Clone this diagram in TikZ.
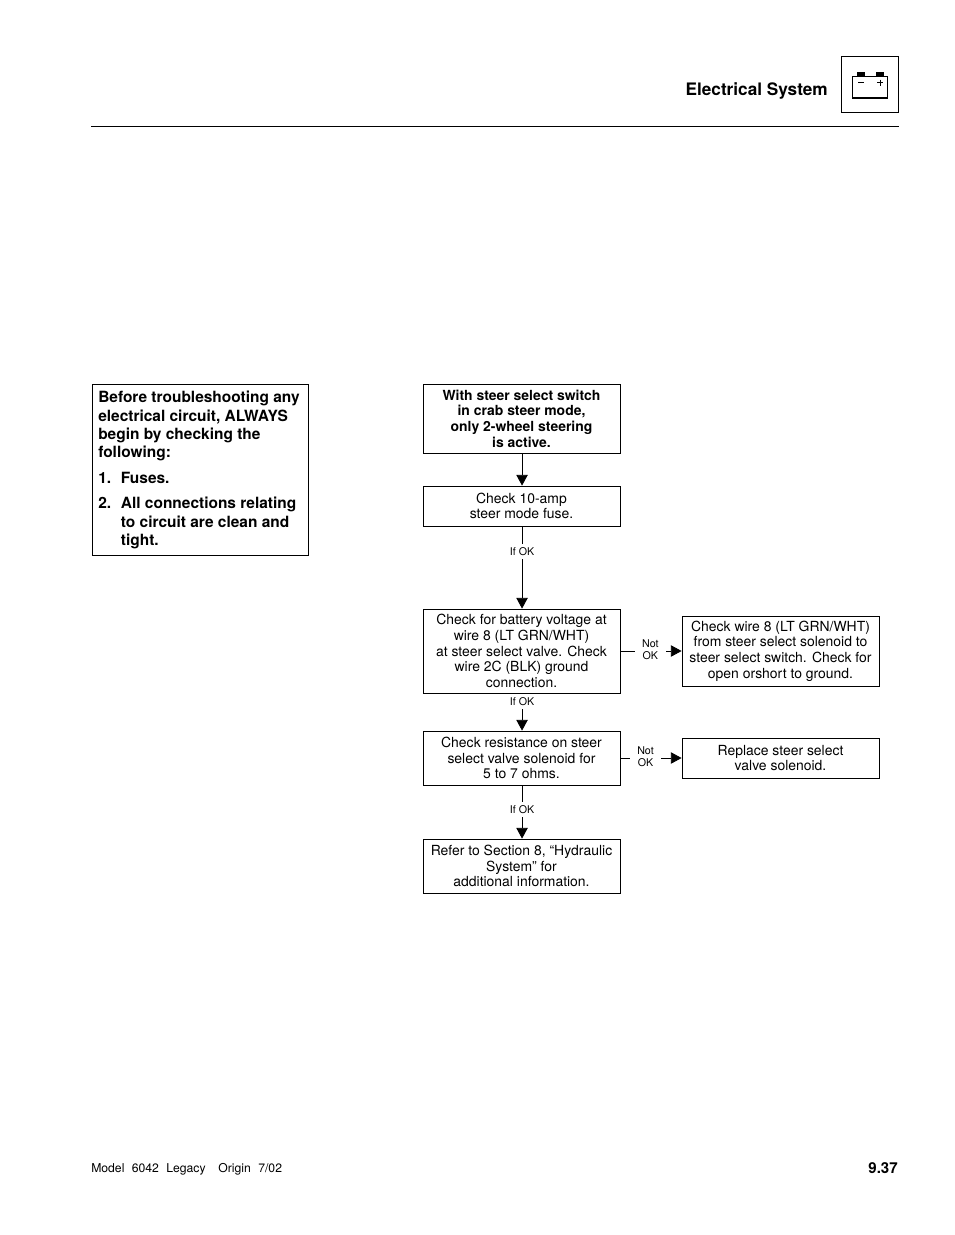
\documentclass[tikz,border=0pt]{standalone}
\usepackage{fontspec}
\setmainfont{TeX Gyre Heros}
\usetikzlibrary{arrows.meta}
\newcommand{\bodyfont}{\fontsize{10.45}{11.75}\selectfont}
\newcommand{\labfont}{\fontsize{8}{9}\selectfont}
\tikzset{
  flowbox/.style={draw,line width=0.6pt,align=center,inner sep=0pt,font=\bodyfont,minimum width=147.75pt},
  lab/.style={fill=white,inner xsep=1pt,inner ysep=2.5pt,align=center,font=\labfont},
  labside/.style={fill=white,inner xsep=5.4pt,inner ysep=1pt,align=center,font=\labfont,yshift=0.9pt},
  flow/.style={line width=0.6pt,-{Triangle[length=8pt,width=8.5pt]}},
  plain/.style={inner sep=0pt,anchor=base}
}
\begin{document}
\begin{tikzpicture}[x=0.75pt,y=-0.75pt]
\useasboundingbox (0,0) rectangle (954,1235);
% header
\node[plain,anchor=base east,font=\fontsize{12.9}{14}\selectfont\bfseries] (title) at (828,95) {Electrical System};
\node[draw,line width=0.75pt,minimum width=42.75pt,minimum height=42pt,inner sep=0pt] (iconbox) at (869.5,84) {};
\coordinate (ruleL) at (91,126.5);
\coordinate (ruleR) at (899,126.5);
\draw[line width=0.75pt] (ruleL) -- (ruleR);
% battery icon
\fill (857,72) rectangle (865,76.5);
\fill (876,72) rectangle (884,76.5);
\draw[line width=0.5pt] (852.5,76.3) -- (888,76.3);
\draw[line width=0.9pt] (852.5,76) -- (852.5,98) -- (887.5,98) -- (887.5,76);
\draw[line width=0.75pt] (858,82.5) -- (864,82.5);
\draw[line width=0.75pt] (877,82.5) -- (883,82.5) (880,79.5) -- (880,85.5);
% left note
\node[draw,line width=0.6pt,minimum width=162pt,minimum height=128.25pt,inner sep=0pt] (note) at (200,469.5) {};
\node[anchor=north west,inner sep=0pt,align=left,font=\fontsize{11.6}{13.8}\selectfont\bfseries] (notetext) at (98,391)
 {Before troubleshooting any\\
  electrical circuit, ALWAYS\\
  begin by checking the\\
  following:\\[5.6pt]
  1.\hspace{7.3pt}Fuses.\\[5pt]
  2.\hspace{7.3pt}All connections relating\\
  \hspace*{17pt}to circuit are clean and\\
  \hspace*{17pt}tight.};
% flow boxes
\node[flowbox,minimum height=51.75pt,font=\bodyfont\bfseries] (b1) at (521.5,418.5)
 {With steer select switch\\in crab steer mode,\\only 2-wheel steering\\is active.};
\node[flowbox,minimum height=30pt] (b2) at (521.5,506)
 {Check 10-amp\\steer mode fuse.};
\node[flowbox,minimum height=63pt] (b3) at (521.5,651)
 {Check for battery voltage at\\wire 8 (LT GRN/WHT)\\at steer select valve. Check\\wire 2C (BLK) ground\\connection.};
\node[flowbox,minimum height=52.5pt] (b4) at (780.5,651)
 {Check wire 8 (LT GRN/WHT)\\from steer select solenoid to\\steer select switch. Check for\\open orshort to ground.};
\node[flowbox,minimum height=40.5pt] (b5) at (521.5,758)
 {Check resistance on steer\\select valve solenoid for\\5 to 7 ohms.};
\node[flowbox,minimum height=30pt] (b6) at (780.5,758)
 {Replace steer select\\valve solenoid.};
\node[flowbox,minimum height=40.5pt] (b7) at (521.5,866)
 {Refer to Section 8, “Hydraulic\\System” for\\additional information.};
% connectors
\draw[flow] ([xshift=0.4pt]b1.south) -- ([xshift=0.4pt]b2.north);
\draw[flow] ([xshift=0.4pt]b2.south) -- node[lab,pos=0.31] (l1) {If OK} ([xshift=0.4pt]b3.north);
\draw[flow] ([xshift=0.4pt]b3.south) -- node[lab,pos=0.22] (l2) {If OK} ([xshift=0.4pt]b5.north);
\draw[flow] ([xshift=0.4pt]b5.south) -- node[lab,pos=0.46] (l3) {If OK} ([xshift=0.4pt]b7.north);
\draw[flow] (b3) -- node[labside,pos=0.49] (l4) {Not\\OK} (b4);
\draw[flow] (b5) -- node[labside,pos=0.41] (l5) {Not\\OK} (b6);
% footer
\node[plain,anchor=base west,font=\fontsize{9.15}{11}\selectfont] (foot) at (91,1172) {Model\hspace{3pt} 6042\hspace{3pt} Legacy\hspace{7pt} Origin\hspace{3pt} 7/02};
\node[plain,anchor=base east,font=\fontsize{11.3}{13}\selectfont\bfseries] (page) at (898,1173.5) {9.37};
\end{tikzpicture}
\end{document}
